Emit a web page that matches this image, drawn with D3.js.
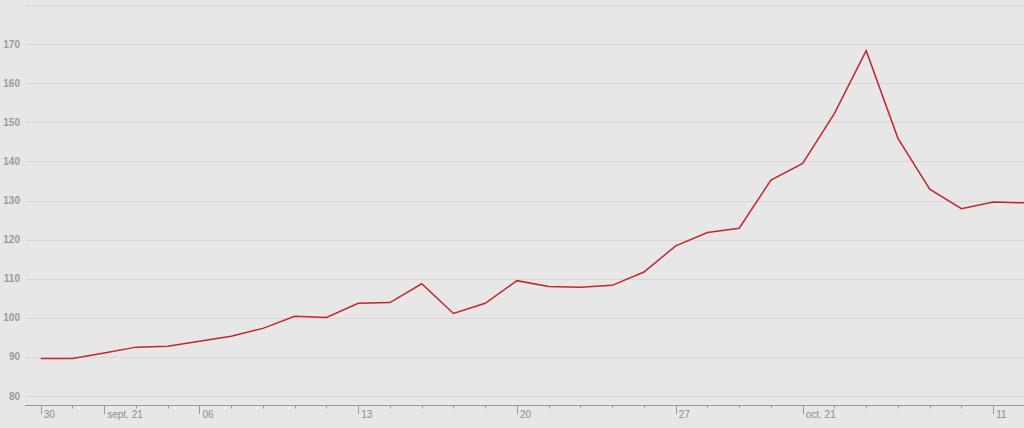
<!DOCTYPE html>
<html>
<head>
<meta charset="utf-8">
<script src="https://cdn.jsdelivr.net/npm/d3@7"></script>
<style>
  html, body { margin: 0; padding: 0; background: #e7e7e7; }
  svg { display: block; }
</style>
</head>
<body>
<svg id="chart" width="1024" height="428"></svg>
<script>
// ---- data ----
const periods = d3.range(32); // weekly periods, index order
const values = [89.6, 89.6, 91.0, 92.5, 92.7, 94.0, 95.3, 97.3, 100.4, 100.1,
                103.7, 103.9, 108.7, 101.1, 103.7, 109.5, 108.0, 107.8, 108.3, 111.7,
                118.4, 121.8, 122.9, 135.2, 139.5, 152.3, 168.3, 145.9, 132.9, 127.9,
                129.6, 129.4];
const xTickLabels = {0: "30", 2: "sept. 21", 5: "06", 10: "13", 15: "20", 20: "27", 24: "oct. 21", 30: "11"};
const yTicks = [80, 90, 100, 110, 120, 130, 140, 150, 160, 170];
const yGrid = [80, 90, 100, 110, 120, 130, 140, 150, 160, 170, 180];

// ---- layout ----
const W = 1024, H = 428;
const plotLeft = 25, plotRight = 1024, axisY = 405;
const svg = d3.select("#chart");
svg.append("rect").attr("width", W).attr("height", H).attr("fill", "#e7e7e7");

const x = d3.scaleLinear().domain([0, 31]).range([40.7, 1024.95]);
const y = d3.scaleLinear().domain([77.7, 180]).range([axisY, 5]);

// gridlines
svg.append("g").selectAll("line").data(yGrid).join("line")
  .attr("x1", plotLeft).attr("x2", plotRight)
  .attr("y1", d => Math.round(y(d)) + 0.5).attr("y2", d => Math.round(y(d)) + 0.5)
  .attr("stroke", "#dbd5d5").attr("stroke-width", 1);

// y labels
svg.append("g").selectAll("text").data(yTicks).join("text")
  .attr("x", 20).attr("y", d => y(d)).attr("dy", "0.35em")
  .attr("text-anchor", "end")
  .attr("font-family", "Liberation Sans, Arial, sans-serif")
  .attr("font-size", 10).attr("font-weight", "bold")
  .attr("fill", "#9a9a9a")
  .text(d => d);

// x axis line
svg.append("line").attr("x1", plotLeft).attr("x2", plotRight)
  .attr("y1", axisY + 0.5).attr("y2", axisY + 0.5)
  .attr("stroke", "#999").attr("stroke-width", 1);

// ticks
svg.append("g").selectAll("line").data(periods).join("line")
  .attr("x1", d => Math.round(x(d)) + 0.5).attr("x2", d => Math.round(x(d)) + 0.5)
  .attr("y1", axisY)
  .attr("y2", d => xTickLabels[d] !== undefined ? axisY + 9 : axisY + 3.5)
  .attr("stroke", "#999").attr("stroke-width", 1);

// x labels
svg.append("g").selectAll("text").data(periods.filter(d => xTickLabels[d] !== undefined)).join("text")
  .attr("x", d => x(d) + 3).attr("y", 418)
  .attr("font-family", "Liberation Sans, Arial, sans-serif")
  .attr("font-size", 10)
  .attr("fill", "#8c8c8c")
  .text(d => xTickLabels[d]);

// line
const line = d3.line().x((d, i) => x(periods[i])).y(d => y(d));
svg.append("path").datum(values)
  .attr("d", line)
  .attr("fill", "none")
  .attr("stroke", "#c1272d")
  .attr("stroke-width", 1.5)
  .attr("stroke-linejoin", "miter");
</script>
</body>
</html>
